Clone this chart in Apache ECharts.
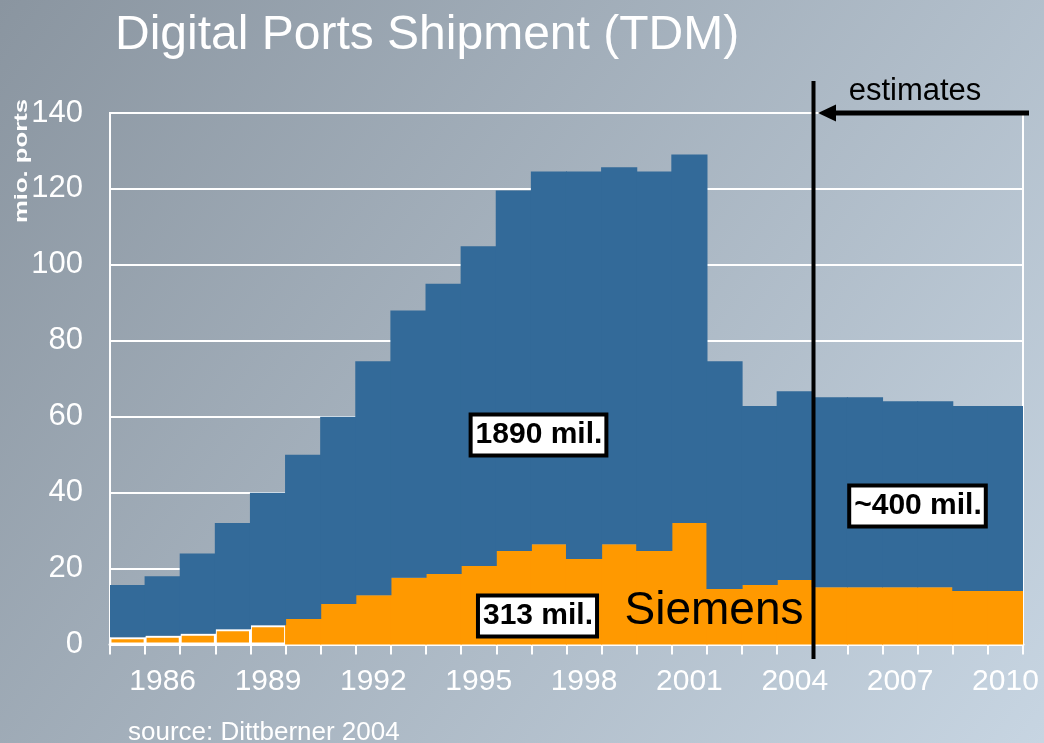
<!DOCTYPE html>
<html>
<head>
<meta charset="utf-8">
<title>Digital Ports Shipment (TDM)</title>
<script src="https://cdn.jsdelivr.net/npm/echarts@6/dist/echarts.min.js"></script>
<style>
  html, body { margin: 0; padding: 0; }
  #chart { width: 1044px; height: 743px; }
</style>
</head>
<body>
<div id="chart"></div>
<script>
const years = [
  "1985", "1986", "1987", "1988", "1989", "1990", "1991", "1992", "1993",
  "1994", "1995", "1996", "1997", "1998", "1999", "2000", "2001", "2002",
  "2003", "2004", "2005", "2006", "2007", "2008", "2009", "2010"
];
// total shipment per year (mio. ports)
const totals = [
  15.7, 18.0, 24.0, 32.0, 40.0, 50.0, 60.0, 74.6, 88.0,
  95.0, 104.9, 119.6, 124.6, 124.6, 125.7, 124.6, 129.1, 74.6,
  62.8, 66.7, 65.1, 65.1, 64.1, 64.1, 62.8, 62.8
];
// Siemens part of it
const siemens = [
  1.9, 2.3, 2.8, 4.0, 5.1, 6.7, 10.7, 13.0, 17.6,
  18.6, 20.7, 24.6, 26.4, 22.5, 26.4, 24.6, 32.0, 14.6,
  15.7, 17.0, 15.1, 15.1, 15.1, 15.1, 14.1, 14.1
];
const yTicks = { min: 0, max: 140, step: 20 };
const labelYears = ["1986", "1989", "1992", "1995", "1998", "2001", "2004", "2007", "2010"];

const others = totals.map((t, i) => +(t - siemens[i]).toFixed(1));
const FONT = '"Liberation Sans", Arial, sans-serif';
const ORANGE = "#ff9900";
const BLUE = "#336a99";

const chart = echarts.init(document.getElementById("chart"));

const boxStyle = (text, x, y) => ({
  type: "text",
  x: x,
  y: y,
  z: 20,
  style: {
    text: text,
    fill: "#000",
    font: "bold 30px " + FONT,
    align: "center",
    verticalAlign: "middle",
    backgroundColor: "#fff",
    borderColor: "#000",
    borderWidth: 4,
    padding: [4, 2, 3, 3]
  }
});

chart.setOption({
  backgroundColor: new echarts.graphic.LinearGradient(0, 0, 1, 1, [
    { offset: 0, color: "#8a95a0" },
    { offset: 1, color: "#c7d5e2" }
  ]),
  animation: false,
  grid: {
    left: 110,
    right: 21,
    top: 113,
    bottom: 98.5,
    show: true,
    borderColor: "#fff",
    borderWidth: 2
  },
  xAxis: {
    type: "category",
    data: years,
    boundaryGap: true,
    axisLine: { lineStyle: { color: "#fff", width: 3 } },
    axisTick: { show: true, interval: 0, length: 10, lineStyle: { color: "#fff", width: 2 } },
    axisLabel: {
      interval: (idx, val) => labelYears.includes(val),
      color: "#fff",
      fontFamily: FONT,
      fontSize: 30,
      margin: 22
    }
  },
  yAxis: {
    type: "value",
    min: yTicks.min,
    max: yTicks.max,
    interval: yTicks.step,
    axisLine: { show: true, lineStyle: { color: "#fff", width: 2 } },
    axisTick: { show: false },
    axisLabel: { color: "#fff", fontFamily: FONT, fontSize: 31, margin: 27 },
    splitLine: { lineStyle: { color: "#fff", width: 2 } }
  },
  series: [
    {
      name: "Siemens",
      type: "bar",
      stack: "all",
      barWidth: "103%",
      itemStyle: { color: ORANGE },
      data: siemens.map((v, i) =>
        i < 5 ? { value: v, itemStyle: { borderColor: "#fff", borderWidth: 2 } } : v
      )
    },
    {
      name: "Others",
      type: "bar",
      stack: "all",
      barWidth: "103%",
      itemStyle: { color: BLUE },
      data: others
    }
  ],
  graphic: [
    {
      type: "text",
      x: 115,
      y: 36,
      style: {
        text: "Digital Ports Shipment (TDM)",
        fill: "#fff",
        font: "48px " + FONT,
        verticalAlign: "middle"
      }
    },
    {
      type: "text",
      x: 22,
      y: 161,
      rotation: Math.PI / 2,
      scaleX: 1.35,
      style: {
        text: "mio. ports",
        fill: "#fff",
        font: "bold 19px " + FONT,
        align: "center",
        verticalAlign: "middle"
      }
    },
    {
      type: "text",
      x: 128,
      y: 733,
      style: {
        text: "source: Dittberner 2004",
        fill: "#fff",
        font: "26px " + FONT,
        verticalAlign: "middle"
      }
    },
    // estimates divider and arrow
    {
      type: "line",
      z: 30,
      shape: { x1: 813.5, y1: 81, x2: 813.5, y2: 659 },
      style: { stroke: "#000", lineWidth: 4 }
    },
    {
      type: "line",
      z: 30,
      shape: { x1: 832, y1: 113, x2: 1029, y2: 113 },
      style: { stroke: "#000", lineWidth: 5 }
    },
    {
      type: "polygon",
      z: 30,
      shape: { points: [[818, 113], [836, 104.5], [836, 121.5]] },
      style: { fill: "#000" }
    },
    {
      type: "text",
      x: 915,
      y: 91,
      style: {
        text: "estimates",
        fill: "#000",
        font: "31px " + FONT,
        align: "center",
        verticalAlign: "middle"
      }
    },
    boxStyle("1890 mil.", 538.5, 435),
    boxStyle("313 mil.", 537.5, 616),
    boxStyle("~400 mil.", 917.5, 506),
    {
      type: "text",
      x: 714,
      y: 611,
      z: 20,
      style: {
        text: "Siemens",
        fill: "#000",
        font: "46px " + FONT,
        align: "center",
        verticalAlign: "middle"
      }
    }
  ]
});
</script>
</body>
</html>
